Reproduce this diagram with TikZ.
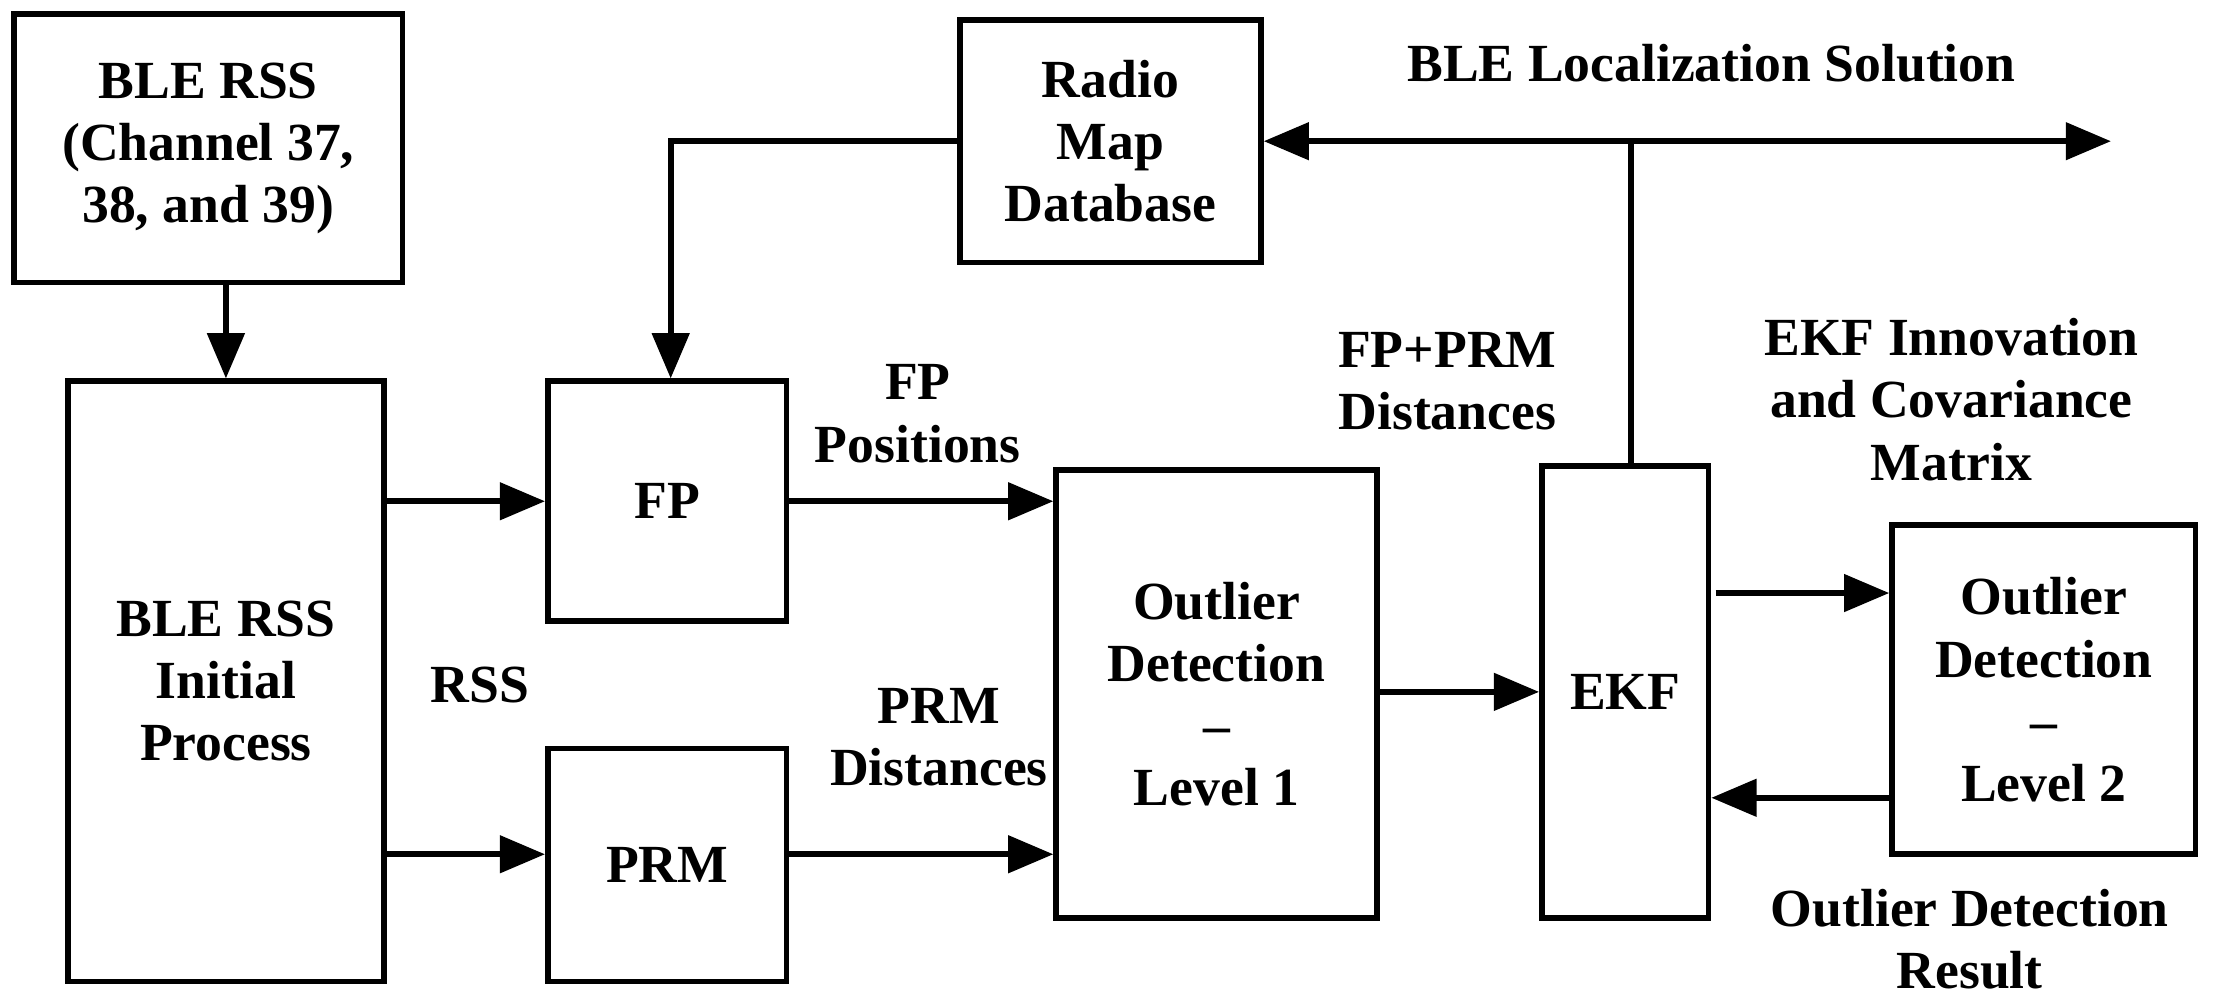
\documentclass[tikz,border=0pt]{standalone}
\usepackage{fontspec}
\setmainfont{Liberation Serif}
\usetikzlibrary{arrows.meta}
\begin{document}
\begin{tikzpicture}[x=1pt,y=-1pt,
 box/.style={draw,line width=4pt,align=center,font=\fontsize{38}{44}\selectfont\bfseries,inner sep=0pt},
 lab/.style={align=center,font=\fontsize{38}{44}\selectfont\bfseries},
 arr/.style={line width=4pt,-{Triangle[length=32pt,width=26pt]}},
 ln/.style={line width=4pt}]
\useasboundingbox (0,0) rectangle (1568,712);
\node[box,minimum width=275,minimum height=190] (rss) at (147.5,105) {BLE RSS\\(Channel 37,\\38, and 39)};
\node[box,minimum width=213,minimum height=172] (rm) at (786.5,100) {Radio\\Map\\Database};
\node[box,minimum width=224,minimum height=425] (ini) at (160,482.5) {BLE RSS\\Initial\\Process};
\node[box,minimum width=169,minimum height=170] (fp) at (472.5,355) {FP};
\node[box,minimum width=169,minimum height=165] (prm) at (472.5,612.5) {PRM};
\node[box,minimum width=227,minimum height=317] (ol1) at (861.5,491.5) {Outlier\\Detection\\--\\Level 1};
\node[box,minimum width=118,minimum height=320] (ekf) at (1151,490) {EKF};
\node[box,minimum width=215,minimum height=233] (ol2) at (1447.5,488.5) {Outlier\\Detection\\--\\Level 2};
\draw[arr] (rss.south-|ini.north) -- (ini.north);
\draw[arr] (ini.east|-0,355) -- (fp.west|-0,355);
\draw[arr] (ini.east|-0,605) -- (prm.west|-0,605);
\draw[arr] (fp.east|-0,355) -- (ol1.west|-0,355);
\draw[arr] (prm.east|-0,605) -- (ol1.west|-0,605);
\draw[arr] (ol1.east|-0,490) -- (ekf.west|-0,490);
\draw[arr] (1215,420) -- (ol2.west|-0,420);
\draw[arr] (ol2.west|-0,565) -- (1212,565);
\coordinate (j) at (1155,100);
\coordinate (e) at (1495,100);
\coordinate (c) at (475,100);
\draw[ln] (ekf.north-|j) -- (j);
\draw[arr] (j) -- (rm.east|-j);
\draw[arr] (j) -- (e);
\draw[arr] (rm.west|-c) -- (c) -- (fp.north-|c);
\node[lab] at (1212,45) {BLE Localization Solution};
\node[lab] at (650,293) {FP\\Positions};
\node[lab] at (665,522) {PRM\\Distances};
\node[lab] at (1025,270) {FP+PRM\\Distances};
\node[lab] at (1382,283) {EKF Innovation\\and Covariance\\Matrix};
\node[lab] at (1395,665) {Outlier Detection\\Result};
\node[lab] at (340,485) {RSS};
\end{tikzpicture}
\end{document}
